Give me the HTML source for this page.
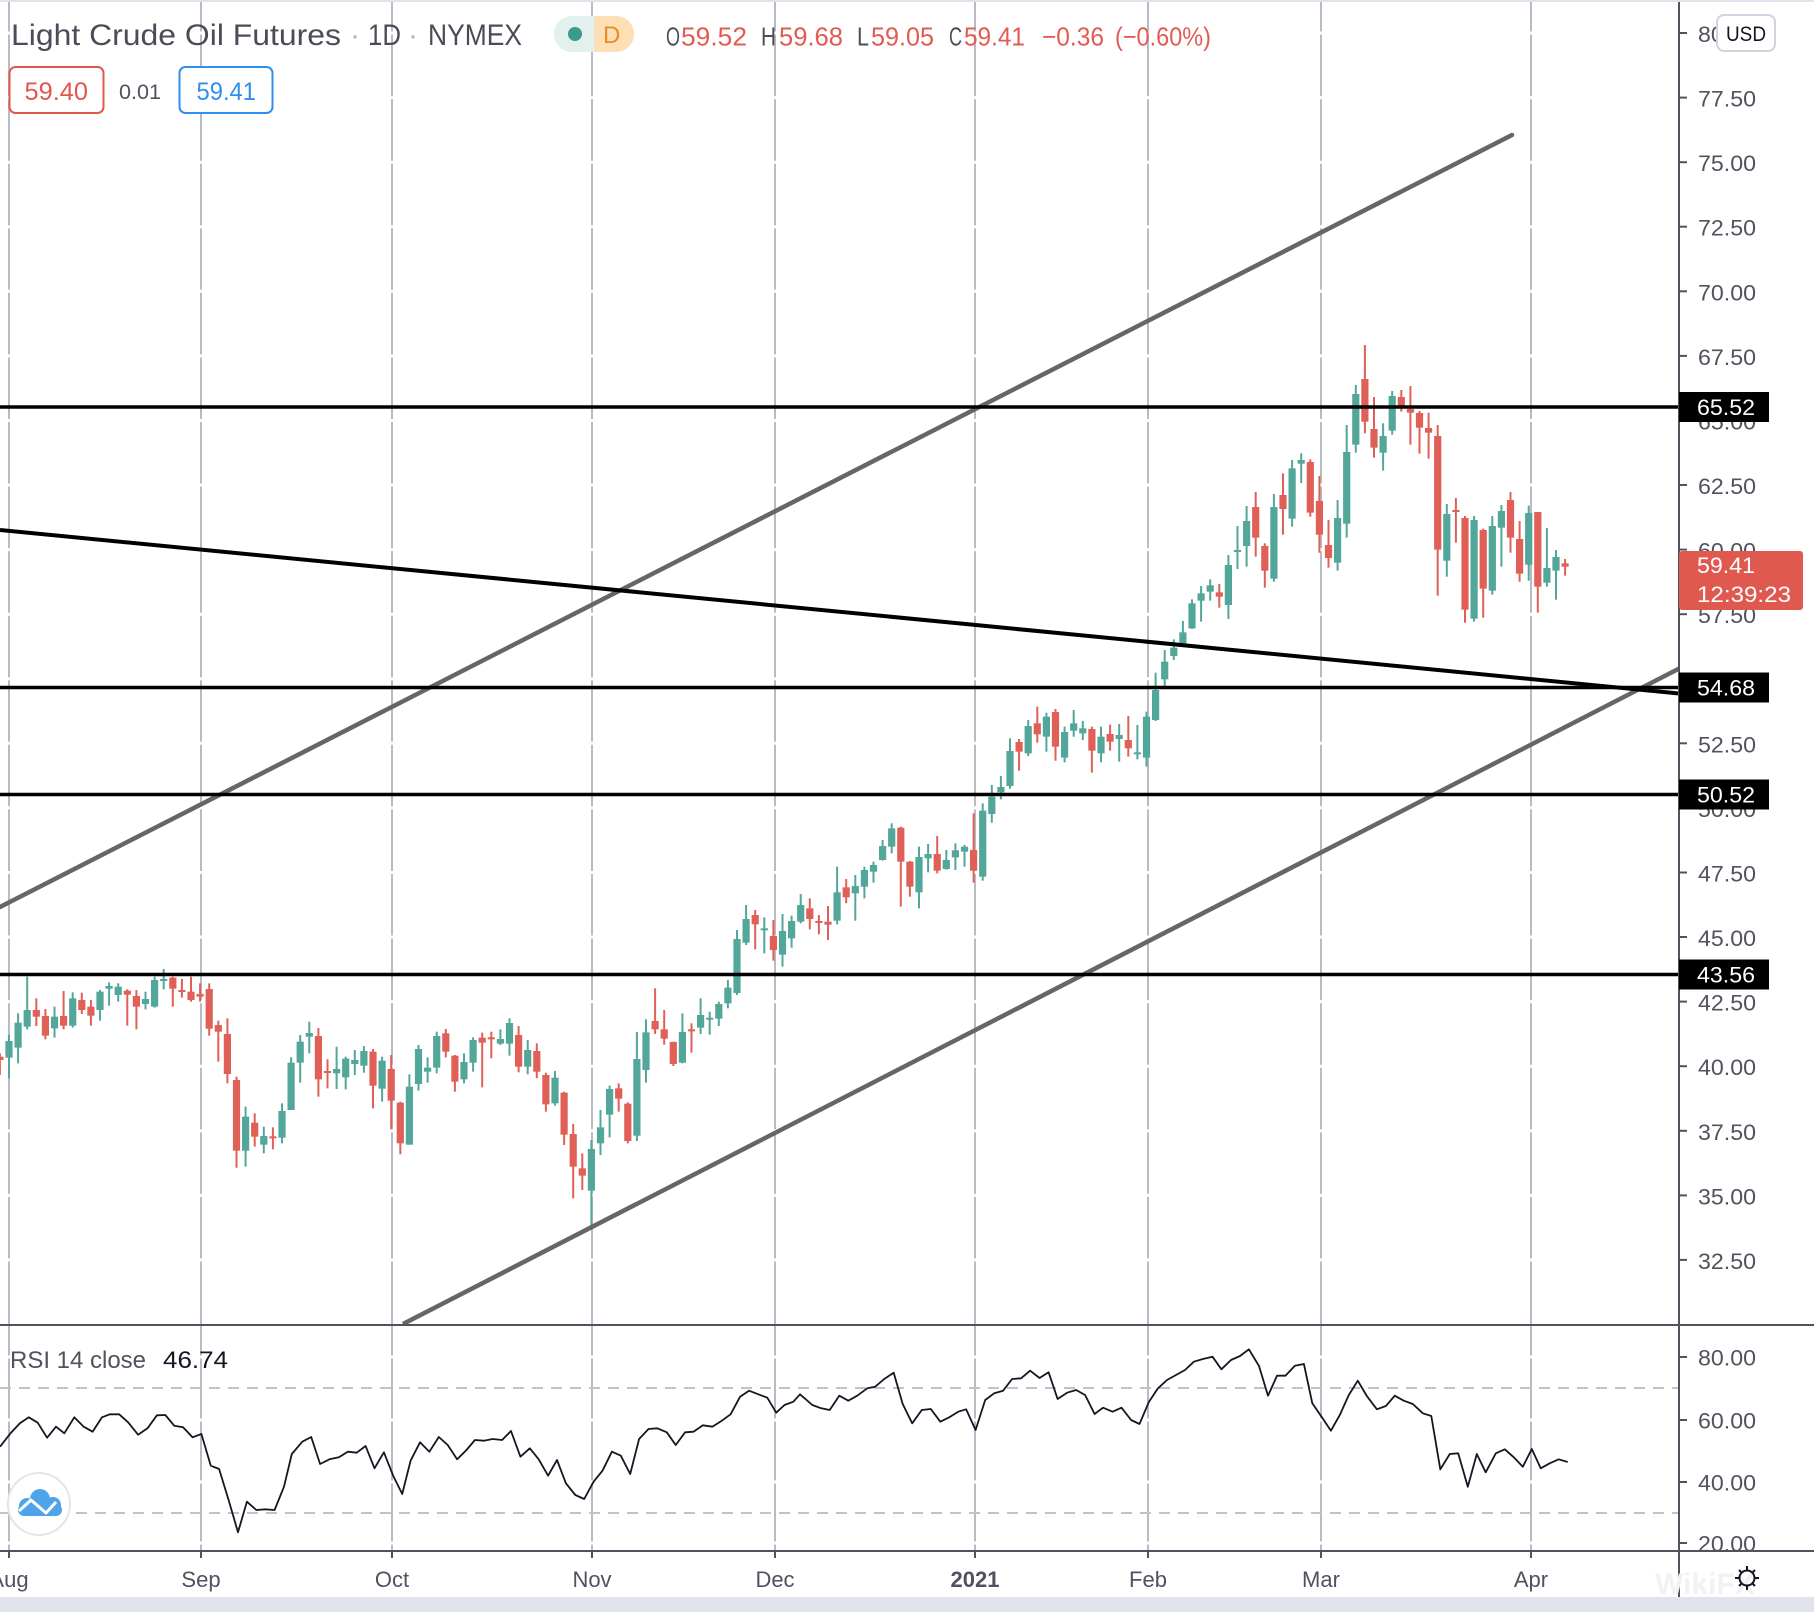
<!DOCTYPE html>
<html><head><meta charset="utf-8">
<style>
html,body{margin:0;padding:0;background:#fff;}
svg{display:block;}
text{font-family:"Liberation Sans",sans-serif;}
</style></head><body>
<svg id="c" width="1814" height="1612" viewBox="0 0 1814 1612" xmlns="http://www.w3.org/2000/svg">
<defs>
<clipPath id="mainclip"><rect x="0" y="0" width="1679" height="1324"/></clipPath>
<clipPath id="rsiclip"><rect x="0" y="1326" width="1679" height="224"/></clipPath>
<clipPath id="axclip"><rect x="1680" y="1326" width="134" height="224"/></clipPath>
</defs>
<rect width="1814" height="1612" fill="#fff"/>
<rect x="0" y="0" width="1814" height="2" fill="#e0e3eb"/>
<rect x="0" y="1597" width="1814" height="15" fill="#e0e3eb"/>

<g stroke="#b9bbc4" stroke-width="2">
<line x1="9" y1="2" x2="9" y2="1551"/>
<line x1="201" y1="2" x2="201" y2="1551"/>
<line x1="392" y1="2" x2="392" y2="1551"/>
<line x1="592" y1="2" x2="592" y2="1551"/>
<line x1="775" y1="2" x2="775" y2="1551"/>
<line x1="975" y1="2" x2="975" y2="1551"/>
<line x1="1148" y1="2" x2="1148" y2="1551"/>
<line x1="1321" y1="2" x2="1321" y2="1551"/>
<line x1="1531" y1="2" x2="1531" y2="1551"/>
</g>
<g stroke="#fff" stroke-width="3">
<line x1="0" y1="33" x2="1679" y2="33"/><line x1="0" y1="97.6" x2="1679" y2="97.6"/>
<line x1="0" y1="162.2" x2="1679" y2="162.2"/><line x1="0" y1="226.7" x2="1679" y2="226.7"/>
<line x1="0" y1="291.3" x2="1679" y2="291.3"/><line x1="0" y1="355.9" x2="1679" y2="355.9"/>
<line x1="0" y1="420.5" x2="1679" y2="420.5"/><line x1="0" y1="485" x2="1679" y2="485"/>
<line x1="0" y1="549.6" x2="1679" y2="549.6"/><line x1="0" y1="614.2" x2="1679" y2="614.2"/>
<line x1="0" y1="678.8" x2="1679" y2="678.8"/><line x1="0" y1="743.3" x2="1679" y2="743.3"/>
<line x1="0" y1="807.9" x2="1679" y2="807.9"/><line x1="0" y1="872.5" x2="1679" y2="872.5"/>
<line x1="0" y1="937" x2="1679" y2="937"/><line x1="0" y1="1001.6" x2="1679" y2="1001.6"/>
<line x1="0" y1="1066.2" x2="1679" y2="1066.2"/><line x1="0" y1="1130.8" x2="1679" y2="1130.8"/>
<line x1="0" y1="1195.4" x2="1679" y2="1195.4"/><line x1="0" y1="1259.9" x2="1679" y2="1259.9"/>
<line x1="0" y1="1357" x2="1679" y2="1357"/><line x1="0" y1="1420" x2="1679" y2="1420"/>
<line x1="0" y1="1482" x2="1679" y2="1482"/><line x1="0" y1="1543" x2="1679" y2="1543"/>
</g>
<g stroke="#c2c3c8" stroke-width="2" stroke-dasharray="11 8">
<line x1="0" y1="1388" x2="1679" y2="1388"/>
<line x1="0" y1="1513" x2="1679" y2="1513"/>
</g>

<g id="candles" clip-path="url(#mainclip)"></g>

<g clip-path="url(#mainclip)">
<line x1="0" y1="907" x2="1512" y2="135" stroke="#666" stroke-width="4.5" stroke-linecap="round"/>
<line x1="403" y1="1324" x2="1690" y2="663" stroke="#666" stroke-width="4.5"/>
<line x1="0" y1="530" x2="1679" y2="693.5" stroke="#000" stroke-width="4"/>
<g stroke="#000" stroke-width="3.5">
<line x1="0" y1="407" x2="1679" y2="407"/>
<line x1="0" y1="687.5" x2="1679" y2="687.5"/>
<line x1="0" y1="794.5" x2="1679" y2="794.5"/>
<line x1="0" y1="974.5" x2="1679" y2="974.5"/>
</g>
</g>

<g clip-path="url(#rsiclip)"><polyline id="rsi" fill="none" stroke="#131722" stroke-width="1.8" stroke-linejoin="round" points=""/></g>

<g stroke="#50535e" stroke-width="2">
<line x1="0" y1="1325" x2="1814" y2="1325"/>
<line x1="0" y1="1551" x2="1814" y2="1551"/>
<line x1="1679" y1="2" x2="1679" y2="1597"/>
</g>

<g stroke="#50535e" stroke-width="2">
<line x1="1679" y1="33" x2="1687" y2="33"/><line x1="1679" y1="97.6" x2="1687" y2="97.6"/>
<line x1="1679" y1="162.2" x2="1687" y2="162.2"/><line x1="1679" y1="226.7" x2="1687" y2="226.7"/>
<line x1="1679" y1="291.3" x2="1687" y2="291.3"/><line x1="1679" y1="355.9" x2="1687" y2="355.9"/>
<line x1="1679" y1="420.5" x2="1687" y2="420.5"/><line x1="1679" y1="485" x2="1687" y2="485"/>
<line x1="1679" y1="549.6" x2="1687" y2="549.6"/><line x1="1679" y1="614.2" x2="1687" y2="614.2"/>
<line x1="1679" y1="678.8" x2="1687" y2="678.8"/><line x1="1679" y1="743.3" x2="1687" y2="743.3"/>
<line x1="1679" y1="807.9" x2="1687" y2="807.9"/><line x1="1679" y1="872.5" x2="1687" y2="872.5"/>
<line x1="1679" y1="937" x2="1687" y2="937"/><line x1="1679" y1="1001.6" x2="1687" y2="1001.6"/>
<line x1="1679" y1="1066.2" x2="1687" y2="1066.2"/><line x1="1679" y1="1130.8" x2="1687" y2="1130.8"/>
<line x1="1679" y1="1195.4" x2="1687" y2="1195.4"/><line x1="1679" y1="1259.9" x2="1687" y2="1259.9"/>
<line x1="1679" y1="1357" x2="1687" y2="1357"/><line x1="1679" y1="1420" x2="1687" y2="1420"/>
<line x1="1679" y1="1482" x2="1687" y2="1482"/><line x1="1679" y1="1543" x2="1687" y2="1543"/>
<line x1="9" y1="1551" x2="9" y2="1558"/><line x1="201" y1="1551" x2="201" y2="1558"/>
<line x1="392" y1="1551" x2="392" y2="1558"/><line x1="592" y1="1551" x2="592" y2="1558"/>
<line x1="775" y1="1551" x2="775" y2="1558"/><line x1="975" y1="1551" x2="975" y2="1558"/>
<line x1="1148" y1="1551" x2="1148" y2="1558"/><line x1="1321" y1="1551" x2="1321" y2="1558"/>
<line x1="1531" y1="1551" x2="1531" y2="1558"/>
</g>

<g font-size="22" fill="#50535e">
<text x="1698" y="42" textLength="58" lengthAdjust="spacingAndGlyphs">80.00</text>
<text x="1698" y="106.6" textLength="58" lengthAdjust="spacingAndGlyphs">77.50</text>
<text x="1698" y="171.2" textLength="58" lengthAdjust="spacingAndGlyphs">75.00</text>
<text x="1698" y="235.7" textLength="58" lengthAdjust="spacingAndGlyphs">72.50</text>
<text x="1698" y="300.3" textLength="58" lengthAdjust="spacingAndGlyphs">70.00</text>
<text x="1698" y="364.9" textLength="58" lengthAdjust="spacingAndGlyphs">67.50</text>
<text x="1698" y="429.5" textLength="58" lengthAdjust="spacingAndGlyphs">65.00</text>
<text x="1698" y="494" textLength="58" lengthAdjust="spacingAndGlyphs">62.50</text>
<text x="1698" y="558.6" textLength="58" lengthAdjust="spacingAndGlyphs">60.00</text>
<text x="1698" y="623.2" textLength="58" lengthAdjust="spacingAndGlyphs">57.50</text>
<text x="1698" y="687.8" textLength="58" lengthAdjust="spacingAndGlyphs">55.00</text>
<text x="1698" y="752.3" textLength="58" lengthAdjust="spacingAndGlyphs">52.50</text>
<text x="1698" y="816.9" textLength="58" lengthAdjust="spacingAndGlyphs">50.00</text>
<text x="1698" y="881.5" textLength="58" lengthAdjust="spacingAndGlyphs">47.50</text>
<text x="1698" y="946" textLength="58" lengthAdjust="spacingAndGlyphs">45.00</text>
<text x="1698" y="1010.6" textLength="58" lengthAdjust="spacingAndGlyphs">42.50</text>
<text x="1698" y="1075.2" textLength="58" lengthAdjust="spacingAndGlyphs">40.00</text>
<text x="1698" y="1139.8" textLength="58" lengthAdjust="spacingAndGlyphs">37.50</text>
<text x="1698" y="1204.4" textLength="58" lengthAdjust="spacingAndGlyphs">35.00</text>
<text x="1698" y="1268.9" textLength="58" lengthAdjust="spacingAndGlyphs">32.50</text>
</g>
<g font-size="22" fill="#50535e" clip-path="url(#axclip)">
<text x="1698" y="1365.5" textLength="58" lengthAdjust="spacingAndGlyphs">80.00</text>
<text x="1698" y="1428.5" textLength="58" lengthAdjust="spacingAndGlyphs">60.00</text>
<text x="1698" y="1490.5" textLength="58" lengthAdjust="spacingAndGlyphs">40.00</text>
<text x="1698" y="1551.5" textLength="58" lengthAdjust="spacingAndGlyphs">20.00</text>
</g>

<rect x="1717" y="15" width="58" height="36" rx="7" fill="#fff" stroke="#d1d4dc" stroke-width="2"/>
<text x="1726" y="41" font-size="21" fill="#131722" textLength="40" lengthAdjust="spacingAndGlyphs">USD</text>

<g>
<rect x="1679" y="392" width="90" height="30" fill="#000"/>
<text x="1697" y="415" font-size="22" fill="#fff" textLength="58" lengthAdjust="spacingAndGlyphs">65.52</text>
<rect x="1679" y="672.5" width="90" height="30" fill="#000"/>
<text x="1697" y="695.5" font-size="22" fill="#fff" textLength="58" lengthAdjust="spacingAndGlyphs">54.68</text>
<rect x="1679" y="779.5" width="90" height="30" fill="#000"/>
<text x="1697" y="802.5" font-size="22" fill="#fff" textLength="58" lengthAdjust="spacingAndGlyphs">50.52</text>
<rect x="1679" y="959.5" width="90" height="30" fill="#000"/>
<text x="1697" y="982.5" font-size="22" fill="#fff" textLength="58" lengthAdjust="spacingAndGlyphs">43.56</text>
<rect x="1679" y="551" width="124" height="59" rx="3" fill="#e0594f"/>
<text x="1697" y="573" font-size="22" fill="#fff" textLength="58" lengthAdjust="spacingAndGlyphs">59.41</text>
<text x="1697" y="602" font-size="22" fill="#fff" textLength="94" lengthAdjust="spacingAndGlyphs">12:39:23</text>
</g>

<g font-size="22" fill="#50535e" text-anchor="middle">
<text x="9" y="1587">Aug</text>
<text x="201" y="1587">Sep</text>
<text x="392" y="1587">Oct</text>
<text x="592" y="1587">Nov</text>
<text x="775" y="1587">Dec</text>
<text x="975" y="1587" font-weight="bold">2021</text>
<text x="1148" y="1587">Feb</text>
<text x="1321" y="1587">Mar</text>
<text x="1531" y="1587">Apr</text>
</g>

<text x="1655" y="1594" font-size="30" font-weight="bold" fill="#f1f2f4">WikiFX</text>
<g stroke="#131722" stroke-width="2" fill="none">
<circle cx="1747" cy="1578" r="7.5"/>
<line x1="1747" y1="1566" x2="1747" y2="1570"/><line x1="1747" y1="1586" x2="1747" y2="1590"/>
<line x1="1735" y1="1578" x2="1739" y2="1578"/><line x1="1755" y1="1578" x2="1759" y2="1578"/>
<line x1="1739" y1="1570" x2="1741.5" y2="1572.5"/><line x1="1755" y1="1570" x2="1752.5" y2="1572.5"/>
<line x1="1739" y1="1586" x2="1741.5" y2="1583.5"/><line x1="1755" y1="1586" x2="1752.5" y2="1583.5"/>
</g>

<text x="11" y="45" font-size="30" fill="#4a4d58" textLength="330" lengthAdjust="spacingAndGlyphs">Light Crude Oil Futures</text>
<text x="350" y="45" font-size="30" fill="#b2b5be">·</text>
<text x="368" y="45" font-size="30" fill="#4a4d58" textLength="33" lengthAdjust="spacingAndGlyphs">1D</text>
<text x="408" y="45" font-size="30" fill="#b2b5be">·</text>
<text x="428" y="45" font-size="30" fill="#4a4d58" textLength="94" lengthAdjust="spacingAndGlyphs">NYMEX</text>

<rect x="554" y="16" width="80" height="36" rx="18" fill="#e2f0ee"/>
<rect x="594" y="16" width="40" height="36" rx="18" fill="#fddfb6"/>
<rect x="594" y="16" width="20" height="36" fill="#fddfb6"/>
<circle cx="575" cy="34" r="7" fill="#3a9c8b"/>
<text x="603" y="43" font-size="24" fill="#f08a22">D</text>

<g font-size="26">
<text x="666" y="45.5" fill="#4a4d58" textLength="14" lengthAdjust="spacingAndGlyphs">O</text><text x="681" y="45.5" fill="#e15b53" textLength="66" lengthAdjust="spacingAndGlyphs">59.52</text>
<text x="761" y="45.5" fill="#4a4d58" textLength="15" lengthAdjust="spacingAndGlyphs">H</text><text x="779" y="45.5" fill="#e15b53" textLength="64" lengthAdjust="spacingAndGlyphs">59.68</text>
<text x="857" y="45.5" fill="#4a4d58" textLength="12" lengthAdjust="spacingAndGlyphs">L</text><text x="871" y="45.5" fill="#e15b53" textLength="63" lengthAdjust="spacingAndGlyphs">59.05</text>
<text x="949" y="45.5" fill="#4a4d58" textLength="13" lengthAdjust="spacingAndGlyphs">C</text><text x="964" y="45.5" fill="#e15b53" textLength="61" lengthAdjust="spacingAndGlyphs">59.41</text>
<text x="1042" y="45.5" fill="#e15b53" textLength="62" lengthAdjust="spacingAndGlyphs">−0.36</text>
<text x="1115" y="45.5" fill="#e15b53" textLength="96" lengthAdjust="spacingAndGlyphs">(−0.60%)</text>
</g>

<rect x="9.5" y="67" width="94" height="46" rx="6" fill="#fff" stroke="#e0574f" stroke-width="2"/>
<text x="24.5" y="100" font-size="25" fill="#e0574f" textLength="63.5" lengthAdjust="spacingAndGlyphs">59.40</text>
<text x="119" y="99" font-size="21" fill="#50535e" textLength="42" lengthAdjust="spacingAndGlyphs">0.01</text>
<rect x="179.5" y="67" width="93" height="46" rx="6" fill="#fff" stroke="#2f8fee" stroke-width="2"/>
<text x="196.5" y="100" font-size="25" fill="#2f8fee" textLength="59.5" lengthAdjust="spacingAndGlyphs">59.41</text>

<text x="10" y="1368" font-size="24" fill="#50535e" textLength="136" lengthAdjust="spacingAndGlyphs">RSI 14 close</text>
<text x="163" y="1368" font-size="24" fill="#131722" textLength="65" lengthAdjust="spacingAndGlyphs">46.74</text>

<circle cx="39" cy="1504" r="31" fill="#fff" stroke="#e4e5e8" stroke-width="2"/>
<g fill="#4ea3ea">
<circle cx="27" cy="1506" r="8"/>
<circle cx="40" cy="1499" r="10"/>
<circle cx="53" cy="1505" r="8"/>
<rect x="18" y="1504" width="44" height="12" rx="6"/>
</g>
<polyline points="19,1511 31,1500 46,1513 56,1502" fill="none" stroke="#fff" stroke-width="3" stroke-linejoin="round"/>
</svg>
<script>
(function(){
var NS="http://www.w3.org/2000/svg";
var G="#53a69a",R="#e06058";
function X(i){return 9+(i-1)*9.1;}
var d8=[["r",350,360,340,405],["g",303,353,285,415],["g",248,323,220,370],["g",210,260,110,268],["r",210,230,175,258],["r",228,287,207,298],["g",230,265,200,293],["r",228,257,153,268],["g",175,257,157,263],["r",180,210,158,222],["r",200,227,180,257],["g",155,210,150,242],["g",138,146,127,197],["g",140,165,130,185],["r",152,164,148,257],["r",168,200,150,268],["g",177,192,155,208],["g",120,200,110,203],["g",117,120,87,148],["r",113,146,110,200],["r",150,153,117,173],["r",155,180,110,185],["r",162,170,130,185],["r",147,266,130,287],["r",255,275,242,365],["r",282,402,235,430],["r",420,632,410,683],["g",530,632,500,680],["r",548,590,520,620],["g",588,614,560,640],["r",589,593,562,628],["g",513,593,490,610],["g",368,510,352,510],["g",305,368,285,428],["g",279,290,245,340],["r",288,418,264,470],["r",393,397,358,445],["g",387,400,320,447],["g",356,412,350,448],["g",360,372,330,405],["g",333,377,318,398],["r",335,437,327,505],["g",362,446,350,485],["r",387,482,345,568],["r",488,610,485,643],["g",440,614,403,614],["g",327,432,315,452],["g",383,395,352,428],["g",288,383,275,400],["r",280,335,267,352],["r",347,425,345,455],["g",366,418,340,430],["g",300,368,292,395],["r",293,308,278,442],["r",292,296,275,355],["g",297,311,268,315],["g",249,311,235,347],["r",285,380,258,397],["g",330,380,300,403],["r",333,395,310,415],["r",405,493,398,515],["g",413,490,393,497],["r",458,584,455,615],["r",582,680,552,775],["r",685,707,640,750],["g",627,752,600,870],["g",562,610,510,645],["g",447,524,437,592],["r",445,476,430,515],["r",491,603,487,610],["g",357,587,276,603],["g",277,390,238,428],["r",243,268,145,282],["r",268,296,210,314],["r",306,372,305,378],["g",276,368,220,370],["r",268,272,250,338],["g",225,263,175,282],["g",233,237,215,284],["g",192,236,185,258],["g",143,190,120,205]];
var d9=[["g",1077,1148,1035,1155],["r",1065,1093,1050,1168],["g",1105,1110,1072,1180],["r",1128,1170,1080,1202],["g",1113,1184,1062,1220],["g",1083,1135,1067,1163],["g",1035,1085,1002,1090],["r",1045,1077,1015,1108],["r",1083,1087,1065,1123],["r",1085,1094,1038,1140],["g",997,1082,920,1093],["r",982,1012,957,1030],["g",978,1000,945,1082],["g",930,980,920,1015],["g",915,935,905,968],["g",858,900,840,902],["g",805,860,790,880],["r",803,905,800,1040],["r",905,980,903,1010],["g",891,997,860,1045],["g",882,895,852,937],["r",882,932,828,940],["g",900,927,870,929],["g",871,892,850,930],["g",860,875,855,920],["r",870,932,760,968],["g",752,950,730,962],["g",710,762,675,788],["g",681,697,648,718],["g",573,678,535,686],["r",546,575,537,632],["g",498,580,480,588],["r",490,523,440,548],["g",470,530,458,575],["r",456,560,447,602],["g",516,593,500,607],["g",490,512,450,530],["g",505,520,483,540],["r",507,572,500,638],["g",530,580,500,607],["r",522,545,494,572],["g",525,537,492,605],["r",540,565,468,590],["g",577,580,495,598],["g",470,593,455,620],["g",390,480,338,483],["g",305,358,270,385]];
var d10=[["g",953,978,928,990],["g",907,940,873,945],["g",820,895,808,897],["g",790,812,768,875],["g",766,785,748,812],["r",787,800,762,833],["g",705,825,675,867],["g",660,665,588,717],["g",573,648,528,710],["r",531,623,486,680],["r",648,722,640,773],["g",531,746,492,755],["r",495,537,430,614],["g",415,566,390,590],["g",390,401,370,459],["r",396,548,388,560],["r",513,614,438,668],["r",645,684,570,713],["g",564,698,510,722],["g",366,581,285,623],["g",192,344,165,368],["r",147,275,45,310],["r",297,353,201,383],["g",318,368,280,422],["g",198,302,183,314],["r",201,227,180,245],["r",237,248,168,344],["r",249,293,243,371],["r",294,308,248,386],["r",318,659,285,797],["g",552,692,522,740],["r",540,546,504,638],["r",564,839,558,878],["g",570,866,558,875],["r",600,776,596,863],["g",588,782,558,794],["g",543,593,525,710],["r",510,623,486,668],["r",627,731,573,755],["g",549,704,527,752],["r",546,770,546,848],["g",714,758,594,770],["g",681,722,660,809],["r",700,710,687,737]];
var all=[];
d8.forEach(function(c,k){all.push([k,c[0],940+c[1]/3,940+c[2]/3,940+c[3]/3,940+c[4]/3]);});
all.push([81,"g",939,993,930,995]);
d9.forEach(function(c,k){all.push([82+k,c[0],560+c[1]/3,560+c[2]/3,560+c[3]/3,560+c[4]/3]);});
d10.forEach(function(c,k){all.push([129+k,c[0],330+c[1]/3,330+c[2]/3,330+c[3]/3,330+c[4]/3]);});
var g=document.getElementById("candles");
all.forEach(function(c){
  var x=X(c[0]),col=c[1]=="g"?G:R;
  var w=document.createElementNS(NS,"rect");
  w.setAttribute("x",(x-1).toFixed(2));w.setAttribute("y",c[4].toFixed(2));
  w.setAttribute("width","2");w.setAttribute("height",Math.max(c[5]-c[4],2).toFixed(2));
  w.setAttribute("fill",col);g.appendChild(w);
  var b=document.createElementNS(NS,"rect");
  b.setAttribute("x",(x-3.6).toFixed(2));b.setAttribute("y",c[2].toFixed(2));
  b.setAttribute("width","7.2");b.setAttribute("height",Math.max(c[3]-c[2],2).toFixed(2));
  b.setAttribute("fill",col);g.appendChild(b);
});
var r6=[[0,440],[20,400],[38,370],[55,352],[72,368],[90,413],[107,380],[123,400],[142,352],[160,380],[177,395],[195,352],[210,343],[228,343],[245,367],[264,404],[282,385],[300,346],[316,345],[333,377],[350,382],[368,412],[385,402],[403,497],[419,507],[437,600],[455,697],[472,605],[490,630],[507,628],[525,630],[543,560],[558,462],[578,425],[595,411],[612,492],[630,478],[648,472],[665,455],[682,458],[699,438],[716,505],[734,457],[752,528],[769,582],[785,482],[803,427],[821,455],[839,411],[856,435],[874,478],[892,450],[908,420],[925,422],[942,417],[960,420],[977,393],[995,470],[1013,445],[1030,478],[1048,527],[1065,480],[1082,550],[1100,585],[1117,597],[1135,545],[1152,512],[1170,455],[1187,467],[1205,522],[1222,417],[1240,387],[1257,385],[1275,397],[1292,435],[1310,397],[1326,395],[1344,376],[1362,380],[1380,362],[1397,343],[1415,290],[1432,272],[1450,283],[1467,293],[1484,338],[1500,315],[1517,305]];
var r7=[[0,283],[22,315],[38,325],[53,330],[70,287],[86,302],[102,287],[120,265],[134,260],[150,237],[167,218],[183,312],[200,370],[217,330],[233,327],[250,365],[266,352],[282,335],[296,328],[313,390],[330,300],[346,280],[362,272],[378,237],[394,235],[410,212],[427,234],[443,217],[459,297],[476,278],[492,270],[508,285],[525,342],[540,323],[557,335],[573,323],[590,360],[605,372],[622,305],[638,265],[654,240],[670,225],[686,210],[702,185],[718,177],[735,170],[751,208],[768,180],[784,168],[800,148],[818,198],[834,287],[850,227],[865,227],[882,197],[898,192],[913,310],[930,352],[946,392],[962,345],[978,285],[994,242],[1010,288],[1028,328],[1044,318],[1060,287],[1076,302],[1092,312],[1110,340],[1125,348],[1141,508],[1158,462],[1173,460],[1190,560],[1206,462],[1222,517],[1240,460],[1256,448],[1272,472],[1288,500],[1304,447],[1320,505],[1336,490],[1352,478],[1368,486]];
var pts=[];
r6.forEach(function(p){pts.push((p[0]/1.912).toFixed(1)+","+(1300+p[1]/3).toFixed(1));});
r7.forEach(function(p){pts.push((800+p[0]/1.782).toFixed(1)+","+(1300+p[1]/3).toFixed(1));});
document.getElementById("rsi").setAttribute("points",pts.join(" "));
})();
</script>
</body></html>
